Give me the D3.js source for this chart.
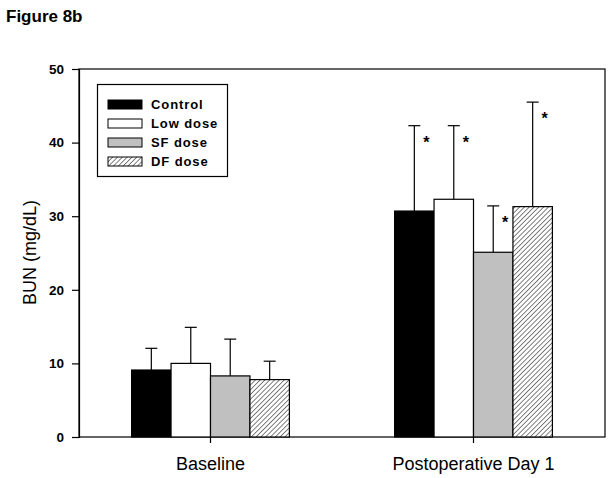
<!DOCTYPE html>
<html><head><meta charset="utf-8">
<script src="https://cdn.jsdelivr.net/npm/d3@7"></script>
<style>body{margin:0;background:#fff;} svg{display:block;font-family:"Liberation Sans",Arial,sans-serif;}</style>
</head><body>
<svg id="c" width="612" height="478"></svg>
<script>
const categories = ["Baseline", "Postoperative Day 1"];
const seriesNames = ["Control", "Low dose", "SF dose", "DF dose"];
const means = [[9.1, 30.7], [10.0, 32.3], [8.3, 25.1], [7.8, 31.3]];
const upperErr = [[12.05, 42.3], [14.9, 42.3], [13.3, 31.4], [10.3, 45.5]];
const significant = [[false, true], [false, true], [false, true], [false, true]];
const yTicks = [0, 10, 20, 30, 40, 50];

const svg = d3.select("#c");
const FONT = "Liberation Sans, Arial, sans-serif";
const L = 79, R = 605, T = 69, B = 437;
const y = d3.scaleLinear().domain([0, 50]).range([B, T]);
const x0 = d3.scaleBand().domain(categories).range([L, R]).paddingInner(0.4).paddingOuter(0.2);
const x1 = d3.scaleBand().domain(seriesNames).range([0, x0.bandwidth()]);

const defs = svg.append("defs");
const hs = 3.4;
const pat = defs.append("pattern").attr("id", "hatch").attr("patternUnits", "userSpaceOnUse")
  .attr("width", hs).attr("height", hs).attr("patternTransform", "rotate(45)");
pat.append("rect").attr("width", hs).attr("height", hs).attr("fill", "#fff");
pat.append("line").attr("x1", 0).attr("y1", 0).attr("x2", 0).attr("y2", hs).attr("stroke", "#000").attr("stroke-width", 1.0);

const fills = ["#000", "#fff", "#c0c0c0", "url(#hatch)"];

// title
svg.append("text").attr("x", 6).attr("y", 22).attr("font-size", 17).attr("font-weight", "bold").text("Figure 8b");

// frame
svg.append("rect").attr("x", L).attr("y", T).attr("width", R - L).attr("height", B - T)
  .attr("fill", "none").attr("stroke", "#000").attr("stroke-width", 1.2);

// y axis
const ya = svg.append("g").attr("transform", `translate(${L},0)`)
  .call(d3.axisLeft(y).tickValues(yTicks).tickSize(7).tickPadding(8).tickFormat(d3.format("d")));
ya.select(".domain").attr("stroke-width", 1.2);
ya.selectAll(".tick line").attr("stroke-width", 1.2);
ya.selectAll("text").attr("font-size", 13.5).attr("font-weight", "bold").attr("font-family", FONT).attr("fill", "#000");

// x axis
const xa = svg.append("g").attr("transform", `translate(0,${B})`)
  .call(d3.axisBottom(x0).tickSize(6).tickPadding(14));
xa.select(".domain").remove();
xa.selectAll(".tick line").attr("stroke-width", 1.2);
xa.selectAll("text").attr("font-size", 18).attr("font-family", FONT).attr("fill", "#000");

// bars
seriesNames.forEach((s, si) => {
  categories.forEach((c, ci) => {
    const bx = x0(c) + x1(s);
    const w = x1.bandwidth();
    const cx = bx + w / 2;
    svg.append("line").attr("x1", cx).attr("x2", cx).attr("y1", y(means[si][ci])).attr("y2", y(upperErr[si][ci])).attr("stroke", "#000").attr("stroke-width", 1.2);
    svg.append("line").attr("x1", cx - 6).attr("x2", cx + 6).attr("y1", y(upperErr[si][ci])).attr("y2", y(upperErr[si][ci])).attr("stroke", "#000").attr("stroke-width", 1.2);
    svg.append("rect").attr("x", bx).attr("y", y(means[si][ci])).attr("width", w).attr("height", y(0) - y(means[si][ci]))
      .attr("fill", fills[si]).attr("stroke", "#000").attr("stroke-width", 1.2);
    if (significant[si][ci]) {
      svg.append("text").attr("x", cx + 12).attr("y", y(upperErr[si][ci]) + 22).attr("text-anchor", "middle")
        .attr("font-size", 16).attr("font-weight", "bold").text("*");
    }
  });
});

// legend
const lg = svg.append("g");
lg.append("rect").attr("x", 97.5).attr("y", 84.5).attr("width", 130).attr("height", 92).attr("fill", "#fff").attr("stroke", "#000").attr("stroke-width", 1.2);
seriesNames.forEach((s, i) => {
  const cy = 104.5 + i * 19;
  lg.append("rect").attr("x", 108).attr("y", cy - 4.5).attr("width", 34).attr("height", 9)
    .attr("fill", fills[i]).attr("stroke", "#000").attr("stroke-width", 1);
  lg.append("text").attr("x", 151).attr("y", cy + 4.5).attr("font-size", 13).attr("font-weight", "bold")
    .attr("letter-spacing", 0.9).text(s);
});

// y title
svg.append("text").attr("transform", "translate(35.5,252.5) rotate(-90)").attr("text-anchor", "middle")
  .attr("font-size", 18).text("BUN (mg/dL)");
</script>
</body></html>
